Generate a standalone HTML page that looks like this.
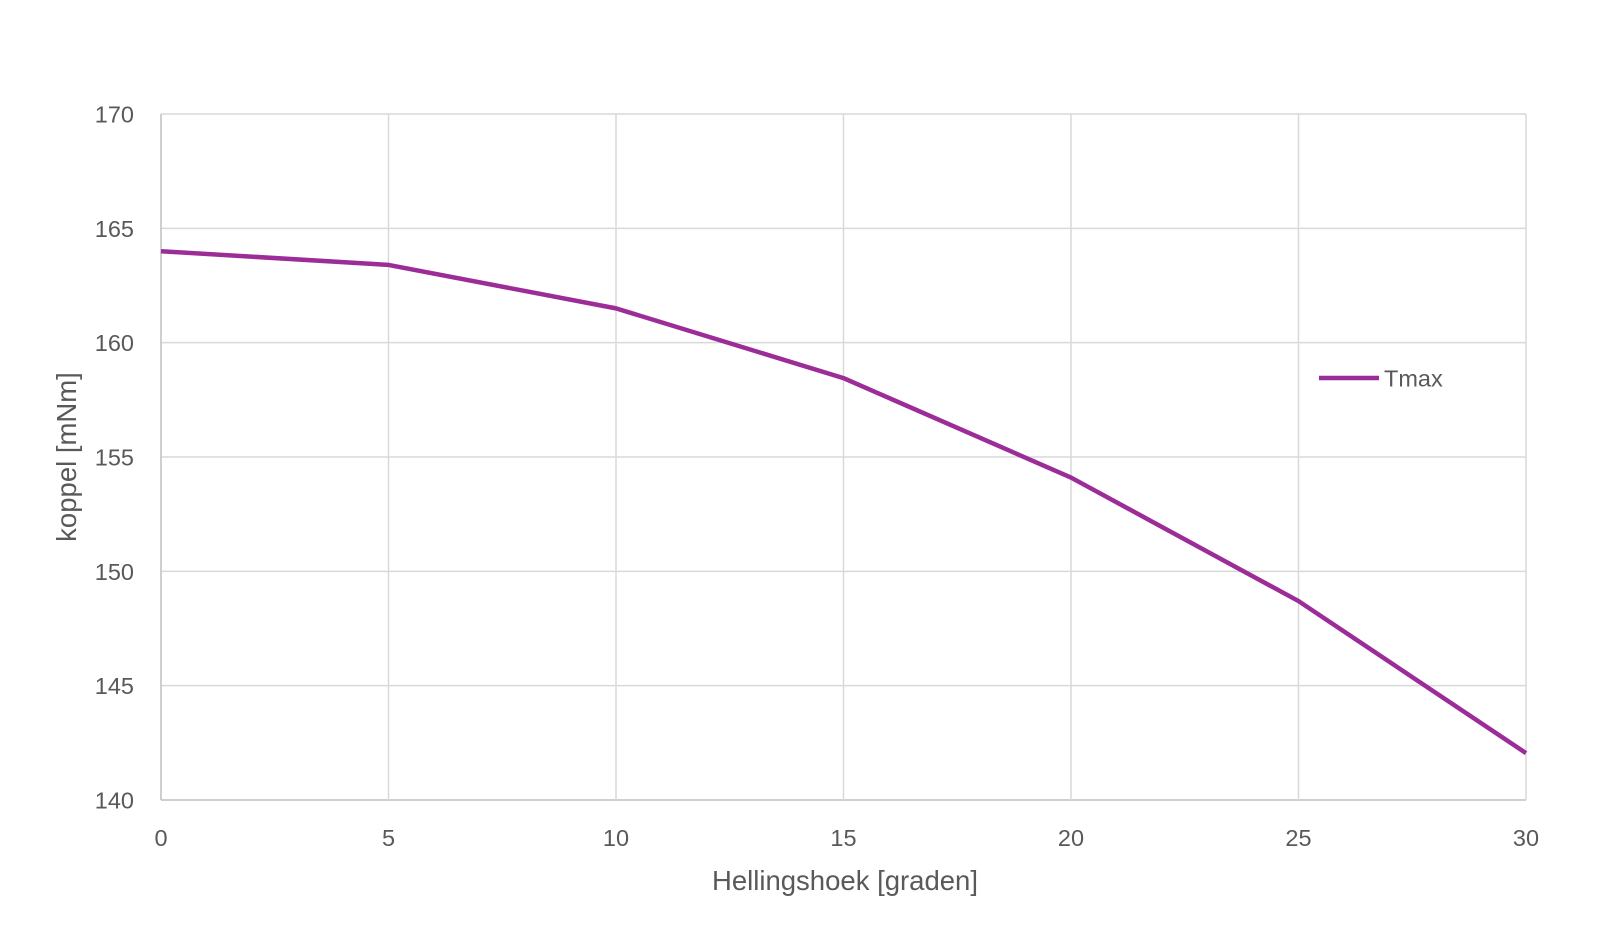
<!DOCTYPE html>
<html>
<head>
<meta charset="utf-8">
<style>
  html,body{margin:0;padding:0;background:#fff;}
  body{width:1600px;height:941px;overflow:hidden;}
  svg text{font-family:"Liberation Sans",sans-serif;fill:#595959;}
</style>
</head>
<body>
<svg id="chart" width="1600" height="941" viewBox="0 0 1600 941" xmlns="http://www.w3.org/2000/svg"></svg>
<script>
const categories = [0, 5, 10, 15, 20, 25, 30];
const tmaxValues = [164.0, 163.4, 161.5, 158.45, 154.1, 148.7, 142.05];
const yTicks = [140, 145, 150, 155, 160, 165, 170];
const xTicks = [0, 5, 10, 15, 20, 25, 30];
const seriesName = "Tmax";

const L = 161, R = 1526, T = 114, B = 800;
const xMin = 0, xMax = 30, yMin = 140, yMax = 170;
function xs(v){ return L + (v - xMin) / (xMax - xMin) * (R - L); }
function ys(v){ return B - (v - yMin) / (yMax - yMin) * (B - T); }

const svg = document.getElementById('chart');
const NS = "http://www.w3.org/2000/svg";
function mk(tag, attrs){ const e = document.createElementNS(NS, tag); for (const k in attrs) e.setAttribute(k, attrs[k]); svg.appendChild(e); return e; }

yTicks.forEach(v => {
  const g = mk('line', {x1:L, x2:R, y1:ys(v), y2:ys(v), stroke: v===yMin ? '#bfbfbf' : '#d9d9d9', 'stroke-width':1.5});
  
  
  const t = mk('text', {x:134, y:ys(v)+8.5, 'text-anchor':'end', 'font-size':23.5});
  t.textContent = v;
  
  
});
xTicks.forEach(v => {
  const g = mk('line', {x1:xs(v), x2:xs(v), y1:T, y2:B, stroke: v===xMin ? '#bfbfbf' : '#d9d9d9', 'stroke-width':1.5});
  
  
  const t = mk('text', {x:xs(v), y:846, 'text-anchor':'middle', 'font-size':23.5});
  t.textContent = v;
  
  
});

const pts = categories.map((c,i) => xs(c) + ',' + ys(tmaxValues[i])).join(' ');
const line = mk('polyline', {points:pts, fill:'none', stroke:'#9b2c98', 'stroke-width':4.5, 'stroke-linejoin':'round'});



const ll = mk('line', {x1:1319, x2:1379, y1:378, y2:378, stroke:'#9b2c98', 'stroke-width':4.5});


const lt = mk('text', {x:1384, y:386.5, 'font-size':23.5});
lt.textContent = seriesName;



const xt = mk('text', {x:845, y:890, 'text-anchor':'middle', 'font-size':27.5});
xt.textContent = 'Hellingshoek [graden]';


const yt = mk('text', {x:0, y:0, 'text-anchor':'middle', 'font-size':27.5, transform:'translate(76,457) rotate(-90)'});
yt.textContent = 'koppel [mNm]';


</script>
</body>
</html>
